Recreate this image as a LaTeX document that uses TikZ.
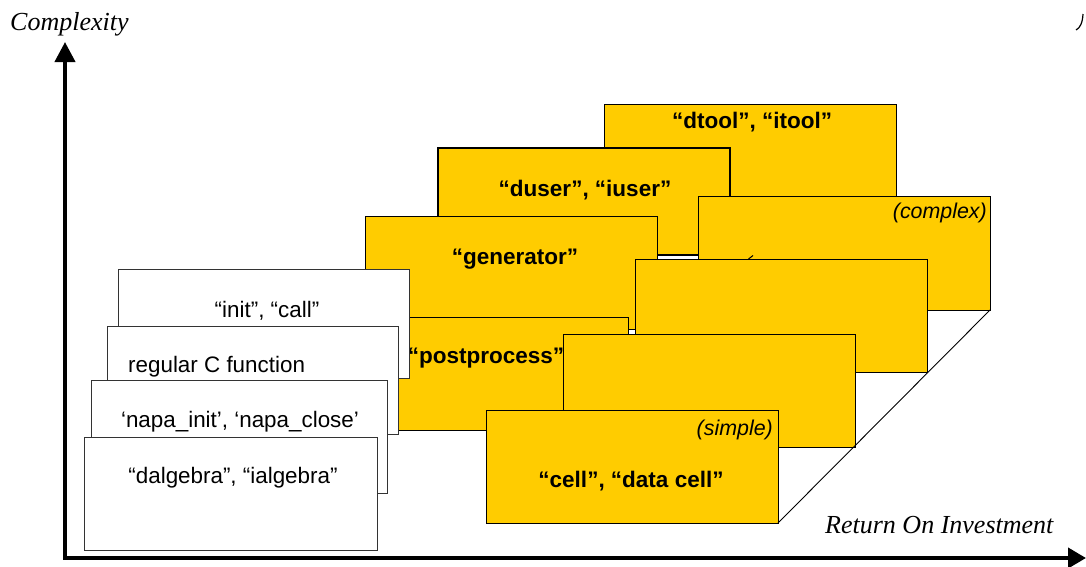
\documentclass[tikz,border=0pt]{standalone}
\usepackage{fontspec}
\setmainfont{Liberation Serif}
\setsansfont{Liberation Sans}
\usetikzlibrary{arrows.meta}
\definecolor{gold}{RGB}{255,204,0}
\begin{document}
\begin{tikzpicture}[x=1pt,y=-1pt,
  ybox/.style={draw=black, fill=gold, line width=0.9pt, anchor=north west, inner sep=0pt, outer sep=0pt},
  wbox/.style={draw=black!80, fill=white, line width=0.9pt, anchor=north west, inner sep=0pt, outer sep=0pt},
  lbl/.style={font=\sffamily\fontsize{22.4}{24}\selectfont, inner sep=0pt},
  blbl/.style={font=\sffamily\bfseries\fontsize{22.5}{24}\selectfont, inner sep=0pt},
  tag/.style={font=\sffamily\itshape\fontsize{21.4}{23}\selectfont, inner sep=0pt},
  axlbl/.style={font=\itshape\fontsize{26}{28}\selectfont, inner sep=0pt},
  axis/.style={line width=4pt, line join=miter, {Triangle[width=20pt,length=20pt]}-{Triangle[width=20pt,length=18pt]}}
]
\useasboundingbox (0,0) rectangle (1086,566);

% yellow boxes, back to front
\node[ybox, minimum width=292pt, minimum height=113pt] (dtool) at (604,104) {};
\node[ybox, minimum width=292pt, minimum height=107pt, line width=1.3pt] (duser) at (438,148) {};
\node[ybox, minimum width=292pt, minimum height=114pt] (complex) at (698,196) {};
\node[ybox, minimum width=292pt, minimum height=113pt] (generator) at (365,216) {};
\node[ybox, minimum width=292pt, minimum height=113pt] (rfour) at (635,259) {};
\node[ybox, minimum width=263pt, minimum height=113pt] (postprocess) at (365,317) {};
\node[ybox, minimum width=292pt, minimum height=113pt] (rtwo) at (563,334) {};
\node[ybox, minimum width=292pt, minimum height=113pt] (cell) at (486,410) {};

% floor edge
\draw[line width=0.9pt] (cell.south east) -- (complex.south east);

% fragment of hidden glyph
\coordinate (fa) at (748.5,259);
\coordinate (fb) at (753,255.5);
\draw[line width=1pt] (fa) -- (fb);

% yellow labels
\node[blbl] (tdtool) at (752,122) {“dtool”, “itool”};
\node[blbl] (tduser) at (585,190) {“duser”, “iuser”};
\node[blbl] (tgen) at (515,259) {“generator”};
\node[tag, anchor=east] (tcomplex) at (987,213) {(complex)};
\node[blbl] (tpost) at (486,358) {“postprocess”};
\node[tag, anchor=east] (tsimple) at (773,430) {(simple)};
\node[blbl] (tcell) at (631,481) {“cell”, “data cell”};

% white boxes, back to front
\node[wbox, minimum width=291pt, minimum height=109pt] (init) at (118,269) {};
\node[lbl] (tinit) at (267,311) {“init”, “call”};
\node[wbox, minimum width=291pt, minimum height=108pt] (regc) at (107,326) {};
\node[lbl, anchor=west] (tregc) at (128,367) {regular C function};
\node[wbox, minimum width=296pt, minimum height=113pt] (napa) at (91,380) {};
\node[lbl] (tnapa) at (240,422) {‘napa\_init’, ‘napa\_close’};
\node[wbox, minimum width=293pt, minimum height=113pt] (dalg) at (84,437) {};
\node[lbl] (tdalg) at (233,478) {“dalgebra”, “ialgebra”};

% axes
\coordinate (ytop) at (65,42);
\coordinate (origin) at (65,558);
\coordinate (xend) at (1086,558);
\draw[axis] (ytop) -- (origin) -- (xend);
\node[axlbl, anchor=base west] (ylab) at (10,30) {Complexity};
\node[axlbl, anchor=base west] (xlab) at (825,533) {Return On Investment};

% clipped glyph fragment at top right
\coordinate (ga) at (1083,14);
\coordinate (gb) at (1076,30);
\draw[line width=1.2pt] (ga) .. controls (1082.5,23) and (1080,28) .. (gb);
\end{tikzpicture}
\end{document}
